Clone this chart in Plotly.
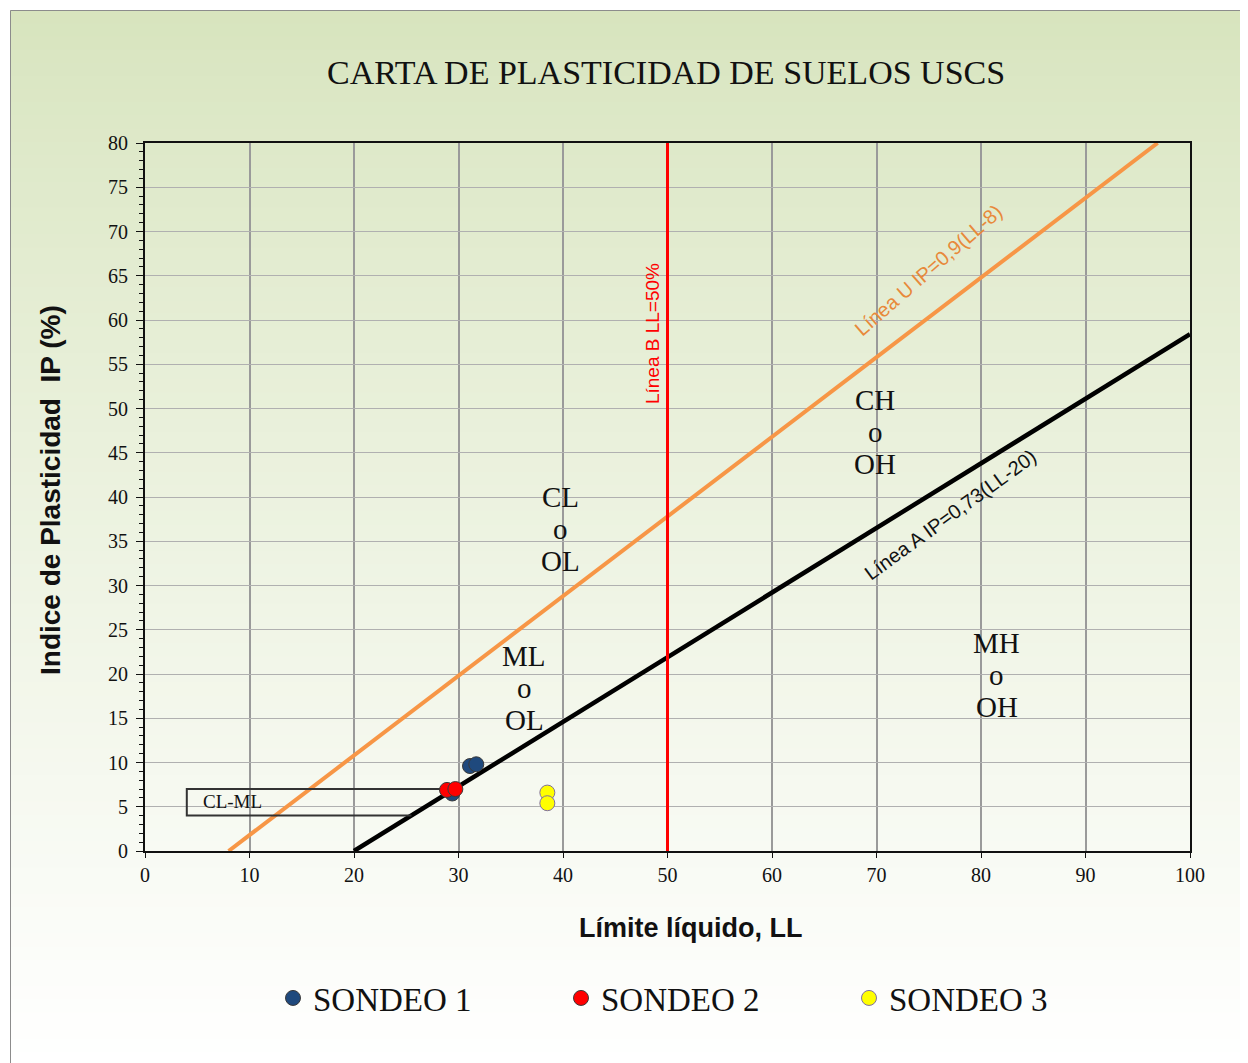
import plotly.graph_objects as go

# ---------------- data ----------------
S1_LL = [31.1, 31.7, 29.4]
S1_IP = [9.6, 9.8, 6.5]
S2_LL = [28.9, 29.7]
S2_IP = [6.9, 7.0]
S3_LL = [38.5, 38.5]
S3_IP = [6.6, 5.4]

U_LL = [8, 96.9]          # Linea U  IP = 0.9(LL-8)
U_IP = [0, 80]
A_LL = [20, 100]          # Linea A  IP = 0.73(LL-20)
A_IP = [0, 58.4]
B_LL = [50, 50]           # Linea B  LL = 50%
B_IP = [0, 80]
CLML_LL = [29, 4, 4, 25.5]
CLML_IP = [7, 7, 4, 4]

X_TICKS = [0, 10, 20, 30, 40, 50, 60, 70, 80, 90, 100]
Y_TICKS = [0, 5, 10, 15, 20, 25, 30, 35, 40, 45, 50, 55, 60, 65, 70, 75, 80]

ZONES = [(["CL", "o", "OL"], 39.8, 36.4), (["ML", "o", "OL"], 36.3, 18.4),
         (["CH", "o", "OH"], 69.9, 47.3), (["MH", "o", "OH"], 81.5, 19.9)]

OFF = 8                      # page body margin
SW, SH = 1248, 1063          # screen size
W, H = SW - OFF, SH - OFF
L, R, T, B = 145 - OFF, 1190 - OFF, 143 - OFF, 851 - OFF
SERIF = "Liberation Serif"
SANS = "Liberation Sans"

def px_x(p):                 # screen px -> paper
    return (p - OFF - L) / (R - L)

def px_y(p):
    return (B - (p - OFF)) / (B - T)

fig = go.Figure()

fig.add_trace(go.Scatter(x=U_LL, y=U_IP, mode="lines", line=dict(color="#F79646", width=4),
                         showlegend=False, hoverinfo="skip"))
fig.add_trace(go.Scatter(x=A_LL, y=A_IP, mode="lines", line=dict(color="#000000", width=4.5),
                         showlegend=False, hoverinfo="skip"))
fig.add_trace(go.Scatter(x=B_LL, y=B_IP, mode="lines", line=dict(color="#FF0000", width=3),
                         showlegend=False, hoverinfo="skip"))
fig.add_trace(go.Scatter(x=CLML_LL, y=CLML_IP, mode="lines", line=dict(color="#333333", width=2),
                         showlegend=False, hoverinfo="skip"))

mk = dict(size=15, line=dict(color="#3a3a3a", width=1))
fig.add_trace(go.Scatter(x=S1_LL, y=S1_IP, mode="markers", name="SONDEO 1",
                         marker=dict(color="#1F497D", **mk)))
fig.add_trace(go.Scatter(x=S2_LL, y=S2_IP, mode="markers", name="SONDEO 2",
                         marker=dict(color="#FF0000", **mk)))
fig.add_trace(go.Scatter(x=S3_LL, y=S3_IP, mode="markers", name="SONDEO 3",
                         marker=dict(color="#FFFF00", size=15, line=dict(color="#7F6F9F", width=1))))

# ---------------- background gradient ----------------
shapes = []
top, bot = 10, SH + 2
n = 80
c0 = (0xD7, 0xE4, 0xBD)
c1 = (0xFF, 0xFF, 0xFF)
for i in range(n):
    y0 = top + (bot - top) * i / n
    y1 = top + (bot - top) * (i + 1) / n + 0.8
    t = (i + 0.5) / n
    t = t ** 0.85
    c = tuple(round(a + (b - a) * t) for a, b in zip(c0, c1))
    shapes.append(dict(type="rect", xref="paper", yref="paper", layer="below",
                       x0=px_x(10), x1=px_x(SW + 2), y0=px_y(y1), y1=px_y(y0),
                       fillcolor="rgb(%d,%d,%d)" % c, line=dict(width=0)))
shapes.append(dict(type="rect", xref="paper", yref="paper", layer="below",
                   x0=px_x(10.5), x1=px_x(SW + 5), y0=px_y(SH + 5), y1=px_y(10.5),
                   fillcolor="rgba(0,0,0,0)", line=dict(color="#8c8c8c", width=1)))

annotations = []
for lines, x, y in ZONES:
    for k, txt in enumerate(lines):
        annotations.append(dict(x=x, y=y, xref="x", yref="y", text=txt, showarrow=False,
                                yshift=32 * (1 - k), xanchor="center", yanchor="middle",
                                font=dict(family=SERIF, size=29, color="#111")))
annotations += [
    dict(x=75.0, y=65.6, xref="x", yref="y", text="Línea U IP=0,9(LL-8)", showarrow=False,
         textangle=-41, font=dict(family=SANS, size=20, color="#E8893A")),
    dict(x=77.0, y=38.0, xref="x", yref="y", text="Línea A IP=0,73(LL-20)", showarrow=False,
         textangle=-36, font=dict(family=SANS, size=20, color="#111")),
    dict(x=48.5, y=58.5, xref="x", yref="y", text="Línea B LL=50%", showarrow=False,
         textangle=-90, font=dict(family=SANS, size=19, color="#FF0000")),
    dict(x=8.4, y=5.6, xref="x", yref="y", text="CL-ML", showarrow=False,
         font=dict(family=SERIF, size=19, color="#111")),
    dict(x=px_x(690), y=px_y(928), xref="paper", yref="paper", text="<b>Límite líquido, LL</b>",
         xanchor="center", yanchor="middle",
         showarrow=False, font=dict(family=SANS, size=27, color="#111")),
    dict(x=px_x(51), y=px_y(490), xref="paper", yref="paper", text="<b>Indice de Plasticidad  IP (%)</b>",
         xanchor="center", yanchor="middle",
         showarrow=False, textangle=-90, font=dict(family=SANS, size=28, color="#111")),
    dict(x=px_x(666), y=px_y(73), xref="paper", yref="paper", text="CARTA DE PLASTICIDAD DE SUELOS USCS",
         xanchor="center", yanchor="middle",
         showarrow=False, font=dict(family=SERIF, size=34, color="#111")),
]

fig.update_layout(
    width=W, height=H,
    margin=dict(l=L, r=W - R, t=T, b=H - B, pad=0),
    paper_bgcolor="white", plot_bgcolor="rgba(0,0,0,0)",
    shapes=shapes, annotations=annotations,
    showlegend=True,
    legend=dict(orientation="h", x=px_x(273), y=px_y(998), xanchor="left", yanchor="middle",
                font=dict(family=SERIF, size=33, color="#111"), entrywidth=243,
                bgcolor="rgba(0,0,0,0)", itemsizing="trace"),
    xaxis=dict(range=[0, 100], tickvals=X_TICKS, showgrid=True, gridcolor="#9a9a9a", gridwidth=1.5,
               showline=True, linecolor="#111", linewidth=2, mirror=True,
               ticks="outside", ticklen=5, tickcolor="#111", zeroline=False,
               tickfont=dict(family=SERIF, size=20, color="#111")),
    yaxis=dict(range=[0, 80], tickvals=Y_TICKS, showgrid=True, gridcolor="#b0b0b0", gridwidth=1.2,
               showline=True, linecolor="#111", linewidth=2, mirror=True,
               ticks="outside", ticklen=7, tickcolor="#111", zeroline=False,
               minor=dict(dtick=1, ticks="outside", ticklen=4, tickcolor="#111", showgrid=False),
               tickfont=dict(family=SERIF, size=20, color="#111"), ticklabelstandoff=4),
)

fig.write_html("out.html")
